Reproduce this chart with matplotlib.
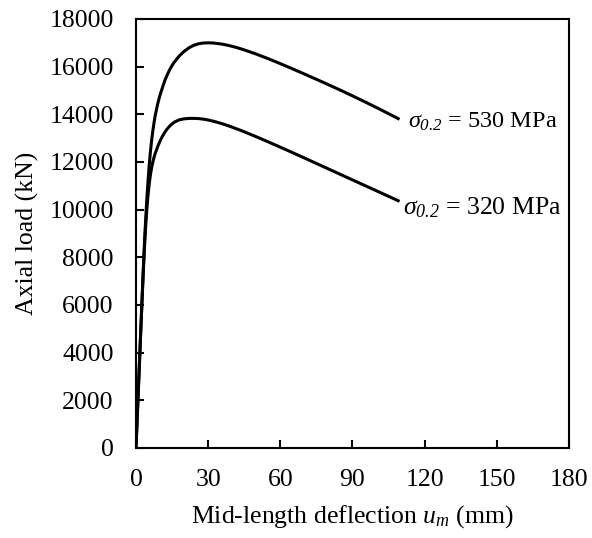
import matplotlib
matplotlib.use("Agg")
import matplotlib.pyplot as plt

defl_530 = [0, 1, 2, 3, 3.5, 4, 4.5, 5, 5.5, 6, 6.5, 7, 7.5, 8, 9, 10, 11, 12, 13, 14,
            15, 16, 18, 20, 22, 24, 26, 28, 30, 32, 34, 36, 38, 40, 42, 45, 50, 55, 60,
            65, 70, 75, 80, 85, 90, 95, 100, 105, 109]
load_530 = [0, 2470, 4940, 7400, 8550, 9550, 10430, 11200, 11870, 12430, 12900, 13300,
            13650, 13950, 14430, 14810, 15120, 15420, 15660, 15870, 16050, 16200, 16450,
            16640, 16790, 16895, 16960, 16992, 17000, 16993, 16972, 16941, 16901, 16852,
            16797, 16704, 16528, 16333, 16127, 15912, 15692, 15469, 15243, 15012, 14775,
            14532, 14283, 14028, 13820]

defl_320 = [0, 1, 2, 2.5, 3, 3.5, 4, 4.5, 5, 5.5, 6, 6.5, 7, 7.5, 8, 9, 10, 11, 12, 13,
            14, 15, 16, 18, 20, 22, 24, 26, 28, 30, 32, 34, 36, 38, 40, 43, 46, 50, 55,
            60, 65, 70, 75, 80, 85, 90, 95, 100, 105, 109]
load_320 = [0, 2470, 4940, 6150, 7300, 8350, 9250, 10000, 10600, 11080, 11460, 11760,
            12000, 12195, 12360, 12640, 12880, 13080, 13250, 13390, 13505, 13600, 13675,
            13770, 13810, 13828, 13830, 13821, 13798, 13762, 13715, 13661, 13600, 13533,
            13461, 13347, 13227, 13060, 12843, 12621, 12396, 12169, 11939, 11709, 11479,
            11249, 11019, 10789, 10559, 10375]

labels = [r"$\sigma_{\mathsf{0.2}}$ = 530 MPa", r"$\sigma_{\mathsf{0.2}}$ = 320 MPa"]
label_pos = [(113, 13680), (111, 10070)]
label_size = [17.5, 18.5]

x_ticks = [0, 30, 60, 90, 120, 150, 180]
y_ticks = list(range(0, 18001, 2000))

plt.rcParams['font.family'] = ['Liberation Serif', 'DejaVu Serif']
plt.rcParams['mathtext.fontset'] = 'custom'
plt.rcParams['mathtext.rm'] = 'Liberation Serif'
plt.rcParams['mathtext.it'] = 'Liberation Serif:italic'
# italic digits for the subscript go through the sf slot
plt.rcParams['mathtext.sf'] = 'Liberation Serif:italic'
plt.rcParams['font.size'] = 18.5

fig = plt.figure(figsize=(5.92, 5.38), dpi=100)
ax = fig.add_axes([0.2297, 0.1673, 0.7314, 0.7974])

ax.plot(defl_530, load_530, color='black', linewidth=2.2)
ax.plot(defl_320, load_320, color='black', linewidth=2.2)

for txt, (tx, ty), fs in zip(labels, label_pos, label_size):
    ax.text(tx, ty, txt, ha='left', va='center', fontsize=fs)

ax.set_xlim(0, 180)
ax.set_ylim(0, 18000)
ax.set_xticks(x_ticks)
ax.set_yticks(y_ticks)
ax.tick_params(direction='in', length=6, width=1.5)
ax.tick_params(axis='x', pad=15)
ax.tick_params(axis='y', pad=16)
for sp in ax.spines.values():
    sp.set_linewidth(1.5)

ax.set_xlabel(r"Mid-length deflection $u_m$ (mm)", labelpad=9)
ax.set_ylabel("Axial load (kN)", labelpad=7.5)

fig.savefig("out.png", dpi=100)
